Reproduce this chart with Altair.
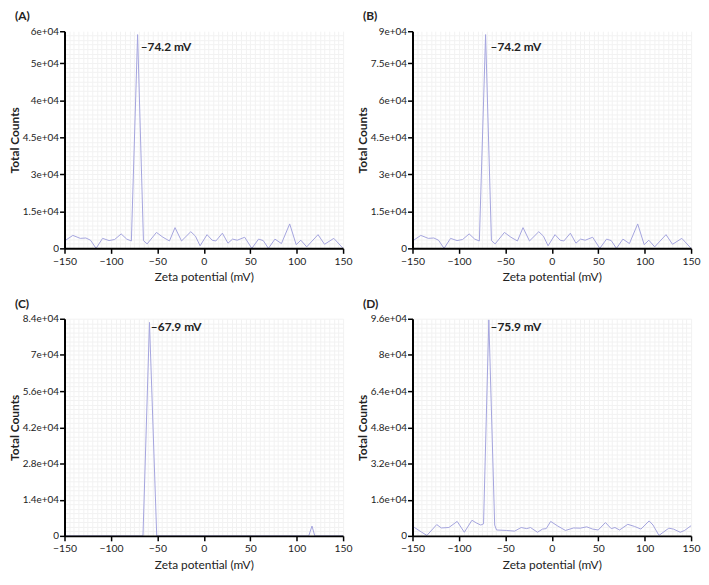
import altair as alt
import pandas as pd
import numpy as np

# ---------------- data ----------------
x_ab = [-150, -141, -133, -127, -122, -116, -109, -102, -96, -89,
        -83, -78, -71.3, -65, -61, -51, -44, -37, -31, -24,
        -14, -9, -4, 3.5, 9, 13, 20, 26, 31, 36,
        44, 51.7, 59, 64, 69.6, 76.6, 83.6, 92.5, 99.5, 104.5,
        110.8, 123, 130, 140, 150]
y_a = [2000, 3500, 2700, 2800, 2200, 0, 2700, 2100, 2400, 3900,
       2500, 2000, 57700, 2100, 1200, 4300, 3000, 2000, 5600, 2000,
       4500, 3300, 700, 3700, 2200, 2000, 4100, 1400, 2500, 2200,
       3000, 0, 2500, 2100, 0, 2500, 1300, 6600, 1000, 2200,
       400, 3700, 1100, 2700, 0]
y_b = [3000, 5250, 4050, 4200, 3300, 0, 4050, 3150, 3600, 5850,
       3750, 3000, 86550, 3150, 1800, 6450, 4500, 3000, 8400, 3000,
       6750, 4950, 1050, 5550, 3300, 3000, 6150, 2100, 3750, 3300,
       4500, 0, 3750, 3150, 0, 3750, 1950, 9900, 1500, 3300,
       600, 5550, 1650, 4050, 0]

x_c = [-150, -65.5, -58.5, -50.7, 113, 116.5, 119.5, 150]
y_c = [0, 0, 82600, 0, 0, 3800, 0, 0]

x_d = [-150, -147.9, -140, -134.5, -123.9, -119, -110.8, -101.9, -94.2, -86,
       -80.7, -76.5, -73.5, -67.8, -61.5, -59.5, -49, -40, -33, -27,
       -23, -15.4, -10, -6, -1.2, 5.8, 14.7, 23.5, 30.6, 37.6,
       44, 50, 57.8, 64, 68, 73, 81.8, 88.9, 96, 104.8,
       109, 115.4, 126, 131, 138.3, 143, 150]
y_d = [3400, 3700, 1600, 200, 5000, 3500, 3700, 6400, 1600, 6900,
       5600, 4800, 5300, 95500, 4800, 2600, 2400, 2100, 3700, 3200,
       3700, 1600, 3000, 3200, 6400, 4500, 2400, 3500, 3400, 4000,
       3000, 2600, 5900, 3200, 3700, 2600, 5100, 4200, 3000, 6600,
       4800, 200, 3400, 3000, 1600, 2400, 4500]

x_ticks = [-150, -100, -50, 0, 50, 100, 150]

yt_a = [0, 10000, 20000, 30000, 40000, 50000, 58600]
yl_a = ["0", "1.5e+04", "3e+04", "4.5e+04", "4e+04", "5e+04", "6e+04"]
yt_b = [0, 15000, 30000, 45000, 60000, 75000, 87900]
yl_b = ["0", "1.5e+04", "3e+04", "4.5e+04", "6e+04", "7.5e+04", "9e+04"]
yt_c = [0, 14000, 28000, 42000, 56000, 70000, 84000]
yl_c = ["0", "1.4e+04", "2.8e+04", "4.2e+04", "5.6e+04", "7e+04", "8.4e+04"]
yt_d = [0, 16000, 32000, 48000, 64000, 80000, 96000]
yl_d = ["0", "1.6e+04", "3.2e+04", "4.8e+04", "6.4e+04", "8e+04", "9.6e+04"]

peak_x = [-68, -66, -57, -66]
peak_y = [54400, 81600, 80800, 92500]
peak_text = ["\u201374.2 mV", "\u201374.2 mV", "\u201367.9 mV", "\u201375.9 mV"]
letters = ["(A)", "(B)", "(C)", "(D)"]

# ---------------- styling ----------------
W, H = 281, 219
LINE = "#a4a4de"
FONT = "Lato"
GRID = "#f2f2f2"


def panel(xs, ys, yt, yl, px, py, pt, letter):
    df = pd.DataFrame({"x": xs, "y": ys})
    ymax = yt[-1]
    xsc = alt.Scale(domain=[-150, 150], nice=False, zero=False)
    ysc = alt.Scale(domain=[0, ymax], nice=False)
    gx = list(range(-150, 151, 5))
    step = yt[1] / 8.0
    gy = [float(v) for v in np.arange(0, ymax + 1e-6, step)]

    grid = alt.Chart(df).mark_line(opacity=0).encode(
        x=alt.X("x:Q", scale=xsc, axis=alt.Axis(orient="top", grid=True, values=gx, labels=False,
                                               ticks=False, domain=False, title=None,
                                               gridColor=GRID, gridWidth=1)),
        y=alt.Y("y:Q", scale=ysc, axis=alt.Axis(orient="right", grid=True, values=gy, labels=False,
                                               ticks=False, domain=False, title=None,
                                               gridColor=GRID, gridWidth=1)),
    )

    vals = "[" + ",".join(str(v) for v in yt) + "]"
    labs = "[" + ",".join("'" + s + "'" for s in yl) + "]"
    line = alt.Chart(df).mark_line(color=LINE, strokeWidth=1).encode(
        x=alt.X("x:Q", scale=xsc, axis=alt.Axis(
            orient="bottom", values=x_ticks, grid=False, title="Zeta potential (mV)",
            labelFlush=False, zindex=1,
            domainColor="black", domainWidth=2, tickColor="black", tickWidth=1.5, tickSize=5,
            labelFont=FONT, labelFontSize=10.5, labelColor="#222", labelPadding=3,
            titleFont=FONT, titleFontSize=12, titleFontWeight="normal", titleColor="#222",
            titlePadding=5)),
        y=alt.Y("y:Q", scale=ysc, axis=alt.Axis(
            orient="left", values=yt, grid=False, title="Total Counts", zindex=1,
            labelExpr=labs + "[indexof(" + vals + ", datum.value)]",
            domainColor="black", domainWidth=2, tickColor="black", tickWidth=1.5, tickSize=5,
            labelFont=FONT, labelFontSize=10, labelColor="#222", labelPadding=1,
            titleFont=FONT, titleFontSize=12, titleFontWeight="bold", titleColor="#222",
            titlePadding=1)),
    )

    lab = alt.Chart(pd.DataFrame({"x": [px], "y": [py], "t": [pt]})).mark_text(
        align="left", baseline="middle", font=FONT, fontSize=12, fontWeight="bold", color="#222"
    ).encode(
        x=alt.X("x:Q", scale=xsc, axis=None),
        y=alt.Y("y:Q", scale=ysc, axis=None),
        text="t:N",
    )

    return alt.layer(grid, line, lab).properties(
        width=W, height=H,
        title=alt.TitleParams(letter, anchor="start", frame="group", dx=-50, offset=3,
                              font=FONT, fontSize=12, fontWeight="bold", color="#222"),
    )


pa = panel(x_ab, y_a, yt_a, yl_a, peak_x[0], peak_y[0], peak_text[0], letters[0])
pb = panel(x_ab, y_b, yt_b, yl_b, peak_x[1], peak_y[1], peak_text[1], letters[1])
pc = panel(x_c, y_c, yt_c, yl_c, peak_x[2], peak_y[2], peak_text[2], letters[2])
pd_ = panel(x_d, y_d, yt_d, yl_d, peak_x[3], peak_y[3], peak_text[3], letters[3])

chart = alt.vconcat(
    alt.hconcat(pa, pb, spacing=3),
    alt.hconcat(pc, pd_, spacing=3),
    spacing=15,
).properties(padding=0).configure_view(stroke=None)

chart.save("out.html", embed_options={"renderer": "svg", "actions": False})
